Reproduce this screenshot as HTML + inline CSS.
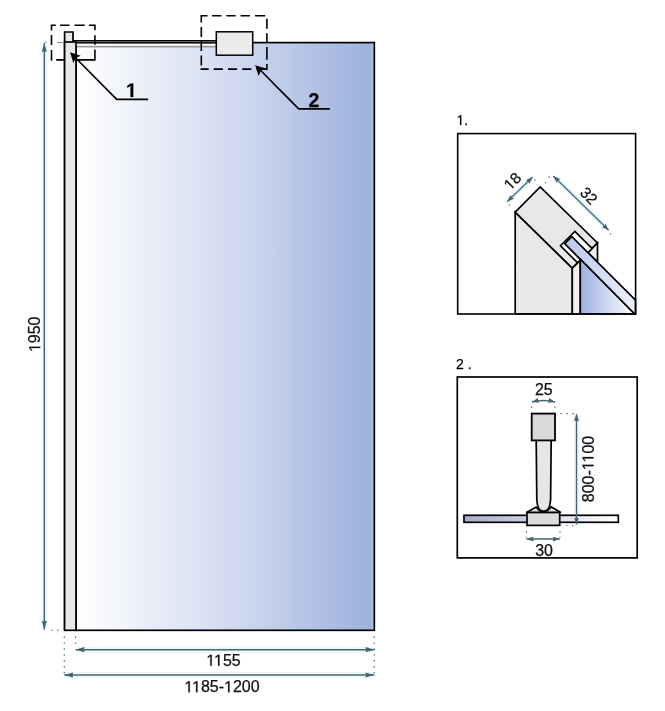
<!DOCTYPE html>
<html><head><meta charset="utf-8">
<style>
html,body{margin:0;padding:0;background:#fff;}
body{width:665px;height:711px;overflow:hidden;}
svg{display:block;will-change:transform;}
text{font-family:"Liberation Sans",sans-serif;stroke:#111;stroke-width:0.25px;}
</style></head>
<body>
<svg width="665" height="711" viewBox="0 0 665 711">
<defs>
<linearGradient id="glass" x1="0" y1="0" x2="1" y2="0">
<stop offset="0" stop-color="#ffffff"/>
<stop offset="0.5" stop-color="#d5dcf1"/>
<stop offset="1" stop-color="#9bb1dd"/>
</linearGradient>
<linearGradient id="g1face" x1="0" y1="0" x2="1" y2="0">
<stop offset="0" stop-color="#9cb0e0"/>
<stop offset="1" stop-color="#ffffff"/>
</linearGradient>
<linearGradient id="g1top" x1="0" y1="0" x2="1" y2="0">
<stop offset="0" stop-color="#b8c6ec"/>
<stop offset="1" stop-color="#eef0fa"/>
</linearGradient>
<linearGradient id="g2bar" x1="0" y1="0" x2="1" y2="0">
<stop offset="0" stop-color="#a6aecf"/>
<stop offset="1" stop-color="#ffffff"/>
</linearGradient>
<marker id="ah" viewBox="0 0 10 5" refX="10" refY="2.5" markerWidth="9" markerHeight="5.2" markerUnits="userSpaceOnUse" orient="auto-start-reverse" preserveAspectRatio="none">
<path d="M0,0 L10,2.5 L0,5 L0.8,2.5 z" fill="#46646f"/>
</marker>
<marker id="as" viewBox="0 0 10 5" refX="10" refY="2.5" markerWidth="7" markerHeight="5" markerUnits="userSpaceOnUse" orient="auto-start-reverse" preserveAspectRatio="none">
<path d="M0,0 L10,2.5 L0,5 L0.8,2.5 z" fill="#46646f"/>
</marker>
</defs>

<!-- ============ MAIN PANEL ============ -->
<!-- glass -->
<rect x="76" y="42.6" width="298.3" height="587.7" fill="url(#glass)" stroke="#000" stroke-width="1.7"/>
<rect x="370.6" y="43.5" width="2.6" height="585.8" fill="#adb9d8"/>
<!-- rod -->
<rect x="76" y="43.4" width="140.5" height="3" fill="#fff"/>
<line x1="76" y1="46.7" x2="217" y2="46.7" stroke="#9a9a9e" stroke-width="1.7"/>
<line x1="73" y1="40.8" x2="217" y2="40.8" stroke="#000" stroke-width="1.4"/>
<line x1="64" y1="42.8" x2="217" y2="42.8" stroke="#000" stroke-width="1.4"/>
<line x1="73" y1="41.8" x2="217" y2="41.8" stroke="#5a5a5a" stroke-width="0.6"/>
<!-- dashed callout boxes -->
<path d="M50.7,25.3H55.8M60.1,25.3H69.5M74.6,25.3H84.7M89,25.3H95.7M51.5,24.5V30.6M51.5,34.9V45M51.5,50.1V60.7M56.2,59.9H64.4M70,59.9H95.7M94.9,24.5V30.2M94.9,35.3V44.8M94.9,49.5V60.7" fill="none" stroke="#000" stroke-width="1.6"/>
<path d="M200.5,15.8H207.6M212,15.8H221.5M226.3,15.8H235.6M240.6,15.8H250M255,15.8H265.2M266.9,18.7V28.7M266.9,33.3V42.4M266.9,47V59.8M266.9,63.9V69.9M200.5,69.1H208.7M213.7,69.1H222.9M228,69.1H237.1M242.3,69.1H251.4M256.5,69.1H267.7M201.3,15V22.6M201.3,27.1V36.9M201.3,41.3V51.1M201.3,55.6V65.4" fill="none" stroke="#000" stroke-width="1.6"/>
<!-- post -->
<path d="M64.6,630.3 V32 H73 V42" fill="#e9e9eb" stroke="#000" stroke-width="1.7"/>
<rect x="64.6" y="42" width="11.4" height="588.3" fill="#e9e9eb" stroke="#000" stroke-width="1.7"/>
<!-- bracket -->
<rect x="216.3" y="31.8" width="36.4" height="23.4" fill="#ebebeb" stroke="#000" stroke-width="1.5"/>


<!-- leader 1 -->
<polyline points="75,57.3 116.7,99.4 148.2,99.4" fill="none" stroke="#000" stroke-width="1.6"/>
<path d="M70,52.3 L80.75,55.7 L75.66,57.96 L73.39,63.05 z" fill="#000"/>
<text font-size="19.5" font-weight="bold" fill="#000" x="126.000" y="97.000">&#8199;</text><path transform="translate(126.000,97.000) scale(0.009521,-0.009521)" d="M478,0 L478,1170 L140,959 L140,1180 L493,1409 L759,1409 L759,0 z" fill="#000" stroke="#000" stroke-width="0.25" vector-effect="non-scaling-stroke"/>
<!-- leader 2 -->
<polyline points="260.5,70.3 298.7,108.9 329.8,108.9" fill="none" stroke="#000" stroke-width="1.6"/>
<path d="M255.2,65.2 L265.95,68.6 L260.86,70.86 L258.6,75.95 z" fill="#000"/>
<text x="308.6" y="106.9" font-size="19.5" font-weight="bold" fill="#000">2</text>

<g stroke="#eef9fb" stroke-width="6" fill="none">
<line x1="44.3" y1="45" x2="44.3" y2="628"/>
<line x1="78" y1="649.7" x2="372" y2="649.7"/>
<line x1="67" y1="675" x2="372" y2="675"/>
</g>
<!-- dimension 1950 -->
<line x1="44.3" y1="43" x2="44.3" y2="629.8" stroke="#46646f" stroke-width="1.4" marker-start="url(#ah)" marker-end="url(#ah)"/>
<path d="M45,42.5H46.8M57,42.5H63.5" stroke="#6a8890" stroke-width="0.9"/>
<line x1="51.2" y1="630.3" x2="63" y2="630.3" stroke="#46646f" stroke-width="1.1" stroke-dasharray="1.4 4.5"/>
<text transform="translate(40.2,334.3) rotate(-90)" font-size="16" fill="#111" x="-17.797 -8.906 0.000 8.891" y="0.000">&#8199;950</text><path transform="translate(40.2,334.3) rotate(-90) translate(-17.797,0.000) scale(0.007812,-0.007812)" d="M515,0 L515,1237 L197,1010 L197,1180 L530,1409 L696,1409 L696,0 z" fill="#111" stroke="#111" stroke-width="0.25" vector-effect="non-scaling-stroke"/>

<!-- dotted extension lines bottom -->
<line x1="64.3" y1="636.5" x2="64.3" y2="674" stroke="#46646f" stroke-width="1.2" stroke-dasharray="1.4 4.5"/>
<line x1="75.6" y1="636.5" x2="75.6" y2="646" stroke="#46646f" stroke-width="1.2" stroke-dasharray="1.4 4.5"/>
<line x1="374.3" y1="636.5" x2="374.3" y2="674" stroke="#46646f" stroke-width="1.2" stroke-dasharray="1.4 4.5"/>
<!-- dimension 1155 -->
<line x1="75.6" y1="649.7" x2="374.4" y2="649.7" stroke="#46646f" stroke-width="1.4" marker-start="url(#ah)" marker-end="url(#ah)"/>
<text font-size="16" fill="#111" x="206.297 214.000 222.906 231.797" y="665.800">&#8199;&#8199;55</text><path transform="translate(206.297,665.800) scale(0.007812,-0.007812)" d="M515,0 L515,1237 L197,1010 L197,1180 L530,1409 L696,1409 L696,0 z" fill="#111" stroke="#111" stroke-width="0.25" vector-effect="non-scaling-stroke"/><path transform="translate(214.000,665.800) scale(0.007812,-0.007812)" d="M515,0 L515,1237 L197,1010 L197,1180 L530,1409 L696,1409 L696,0 z" fill="#111" stroke="#111" stroke-width="0.25" vector-effect="non-scaling-stroke"/>
<!-- dimension 1185-1200 -->
<line x1="64.3" y1="675" x2="374.4" y2="675" stroke="#46646f" stroke-width="1.4" marker-start="url(#ah)" marker-end="url(#ah)"/>
<text font-size="16" fill="#111" x="184.336 192.039 200.945 209.836 218.742 224.070 232.961 241.867 250.758" y="692.300">&#8199;&#8199;85-&#8199;200</text><path transform="translate(184.336,692.300) scale(0.007812,-0.007812)" d="M515,0 L515,1237 L197,1010 L197,1180 L530,1409 L696,1409 L696,0 z" fill="#111" stroke="#111" stroke-width="0.25" vector-effect="non-scaling-stroke"/><path transform="translate(192.039,692.300) scale(0.007812,-0.007812)" d="M515,0 L515,1237 L197,1010 L197,1180 L530,1409 L696,1409 L696,0 z" fill="#111" stroke="#111" stroke-width="0.25" vector-effect="non-scaling-stroke"/><path transform="translate(224.070,692.300) scale(0.007812,-0.007812)" d="M515,0 L515,1237 L197,1010 L197,1180 L530,1409 L696,1409 L696,0 z" fill="#111" stroke="#111" stroke-width="0.25" vector-effect="non-scaling-stroke"/>

<!-- ============ DETAIL 1 ============ -->
<text font-size="14" fill="#000" x="456.500 464.281" y="125.000">&#8199;.</text><path transform="translate(456.500,125.000) scale(0.006836,-0.006836)" d="M515,0 L515,1237 L197,1010 L197,1180 L530,1409 L696,1409 L696,0 z" fill="#000" stroke="#000" stroke-width="0.25" vector-effect="non-scaling-stroke"/>
<rect x="457.7" y="133.6" width="177.9" height="180.4" fill="#fff" stroke="none"/>
<g stroke="#000" stroke-width="1.65" stroke-linejoin="miter">
<polygon points="515.2,212.2 572.3,268.2 572.3,314 515.2,314" fill="#e8e8e8"/>
<polygon points="515.2,212.2 540.2,186.8 597.5,242.9 572.3,268.2" fill="#e8e8e8"/>
<polygon points="597.5,242.9 597.5,262.2 587.95,252.65" fill="#ececec"/>
<polygon points="574.9,231.3 592.1,248.5 577.65,262.95 560.45,245.75" fill="#fff"/>
<polygon points="571.85,236.55 635.5,300.2 635.5,314 634.5,314 564.75,243.65" fill="url(#g1top)"/>
<polygon points="572.3,268.2 580.3,260.3 580.3,314 572.3,314" fill="#f0f0f0"/>
<polygon points="580.3,259.2 634.5,314 580.3,314" fill="url(#g1face)"/>
</g>
<rect x="457.7" y="133.6" width="177.9" height="180.4" fill="none" stroke="#000" stroke-width="1.6"/>
<!-- dim 18 -->
<line x1="509" y1="200" x2="530.8" y2="178.8" stroke="#eaf7fa" stroke-width="5"/>
<line x1="507.1" y1="201.8" x2="532.7" y2="177" stroke="#4a7487" stroke-width="1.5" marker-start="url(#as)" marker-end="url(#as)"/>
<text transform="translate(516.3,185) rotate(-45)" font-size="15.5" fill="#111" x="-8.625 -0.016" y="0.000">&#8199;8</text><path transform="translate(516.3,185) rotate(-45) translate(-8.625,0.000) scale(0.007568,-0.007568)" d="M515,0 L515,1237 L197,1010 L197,1180 L530,1409 L696,1409 L696,0 z" fill="#111" stroke="#111" stroke-width="0.25" vector-effect="non-scaling-stroke"/>
<!-- dim 32 -->
<line x1="555.5" y1="178" x2="606.5" y2="228.2" stroke="#eaf7fa" stroke-width="5"/>
<line x1="553.4" y1="176" x2="608.7" y2="230.3" stroke="#4a7487" stroke-width="1.5" marker-start="url(#as)" marker-end="url(#as)"/>
<text transform="translate(585,199.5) rotate(45)" font-size="15.5" text-anchor="middle" fill="#111">32</text>
<g fill="#46646f">
<circle cx="509.4" cy="205" r="0.7"/><circle cx="535" cy="180" r="0.7"/><circle cx="545.5" cy="182.7" r="0.7"/>
<circle cx="549" cy="177" r="0.7"/><circle cx="610.5" cy="234" r="0.7"/>
</g>

<!-- ============ DETAIL 2 ============ -->
<text x="456" y="369" font-size="14" fill="#000">2 .</text>
<rect x="457.3" y="377" width="179.9" height="180.9" fill="#fff" stroke="#000" stroke-width="1.7"/>
<!-- glass bar -->
<rect x="464" y="515.3" width="154.3" height="7" fill="url(#g2bar)" stroke="#000" stroke-width="1.7"/>
<!-- rod -->
<path d="M536.2,440 L536.8,500 Q537.5,511.3 543.6,511.3 Q549.8,511.3 550.6,500 L551.2,440" fill="#e6e6e6" stroke="#000" stroke-width="1.7"/>
<!-- clamp top -->
<path d="M526.5,512.5 L536.3,507 Q539,511.5 543.6,511.5 Q548.5,511.5 551,506.8 L560.4,512.3 z" fill="#e4e4e4" stroke="#000" stroke-width="1.6" stroke-linejoin="round"/>
<rect x="527" y="512.5" width="32.7" height="12.9" fill="#dcdcdc" stroke="#000" stroke-width="1.7"/>
<!-- head -->
<rect x="531.7" y="413.6" width="23.3" height="26.8" fill="#d9d9d9" stroke="#000" stroke-width="1.8"/>
<!-- dim 25 -->
<path d="M531.9,402 Q543.5,399 555.1,402" fill="none" stroke="#46646f" stroke-width="1.5" marker-start="url(#as)" marker-end="url(#as)"/>
<path d="M531.7,406.6V408M555,406.6V408" stroke="#46646f" stroke-width="1.1"/>
<text x="543.8" y="394.6" font-size="16" text-anchor="middle" fill="#111">25</text>
<!-- dim 800-1100 -->
<line x1="576.5" y1="416" x2="576.5" y2="513" stroke="#eef9fb" stroke-width="6"/>
<line x1="576.5" y1="414" x2="576.5" y2="524.5" stroke="#46646f" stroke-width="1.4" marker-start="url(#as)" marker-end="url(#as)"/>
<line x1="560" y1="413.6" x2="575" y2="413.6" stroke="#46646f" stroke-width="1.1" stroke-dasharray="1.4 4.6" stroke-dashoffset="-0.5"/>
<line x1="561" y1="525.5" x2="575" y2="525.5" stroke="#46646f" stroke-width="1.1" stroke-dasharray="1.4 4.6" stroke-dashoffset="1"/>
<text transform="translate(593.5,469) rotate(-90)" font-size="16" fill="#111" x="-33.219 -24.328 -15.422 -6.531 -1.203 6.516 15.406 24.312" y="0.000">800-&#8199;&#8199;00</text><path transform="translate(593.5,469) rotate(-90) translate(-1.203,0.000) scale(0.007812,-0.007812)" d="M515,0 L515,1237 L197,1010 L197,1180 L530,1409 L696,1409 L696,0 z" fill="#111" stroke="#111" stroke-width="0.25" vector-effect="non-scaling-stroke"/><path transform="translate(593.5,469) rotate(-90) translate(6.516,0.000) scale(0.007812,-0.007812)" d="M515,0 L515,1237 L197,1010 L197,1180 L530,1409 L696,1409 L696,0 z" fill="#111" stroke="#111" stroke-width="0.25" vector-effect="non-scaling-stroke"/>
<!-- dim 30 -->
<line x1="526.6" y1="539" x2="559.8" y2="539" stroke="#46646f" stroke-width="1.5" marker-start="url(#as)" marker-end="url(#as)"/>
<path d="M526.4,531V532.4M560,531V532.4M526.4,536.8V537.8M560,536.8V537.8" stroke="#46646f" stroke-width="1.1"/>
<text x="544.1" y="556.4" font-size="16" text-anchor="middle" fill="#111">30</text>
</svg>
</body></html>
